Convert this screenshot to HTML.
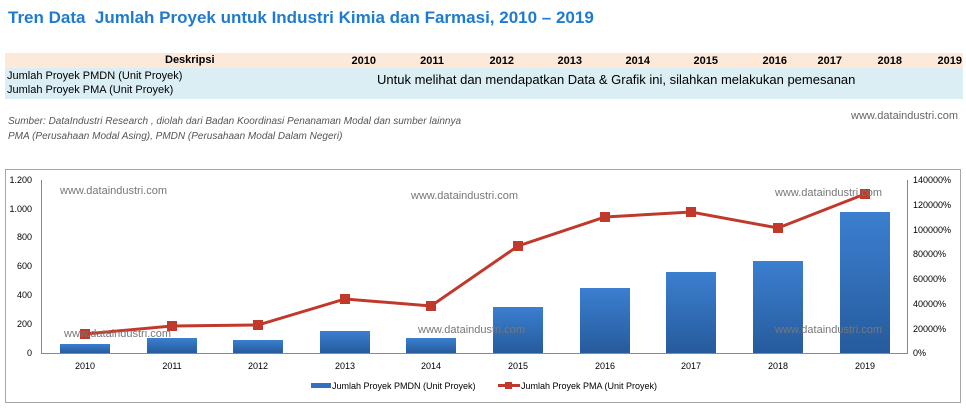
<!DOCTYPE html>
<html><head><meta charset="utf-8"><style>
body{margin:0;width:966px;height:408px;background:#fff;position:relative;overflow:hidden;font-family:"Liberation Sans",Calibri,sans-serif}
.a{position:absolute;white-space:nowrap}
</style></head><body>
<div class="a" style="left:8px;top:8px;font-size:17px;font-weight:bold;color:#1f7bd0;">Tren Data&nbsp; Jumlah Proyek untuk Industri Kimia dan Farmasi, 2010 – 2019</div>
<div class="a" style="left:5px;top:53px;width:958px;height:15px;background:#fde9d9"></div>
<div class="a" style="left:5px;top:68px;width:958px;height:31px;background:#daeef3"></div>
<div class="a" style="left:165px;top:54px;font-size:11px;font-weight:bold">Deskripsi</div>
<div style="font-size:11px;font-weight:bold">
<div class="a" style="left:346px;top:55px;width:30px;text-align:right">2010</div>
<div class="a" style="left:414px;top:55px;width:30px;text-align:right">2011</div>
<div class="a" style="left:484px;top:55px;width:30px;text-align:right">2012</div>
<div class="a" style="left:552px;top:55px;width:30px;text-align:right">2013</div>
<div class="a" style="left:620px;top:55px;width:30px;text-align:right">2014</div>
<div class="a" style="left:688px;top:55px;width:30px;text-align:right">2015</div>
<div class="a" style="left:757px;top:55px;width:30px;text-align:right">2016</div>
<div class="a" style="left:812px;top:55px;width:30px;text-align:right">2017</div>
<div class="a" style="left:872px;top:55px;width:30px;text-align:right">2018</div>
<div class="a" style="left:932px;top:55px;width:30px;text-align:right">2019</div>
</div>
<div class="a" style="left:7px;top:70px;font-size:11px">Jumlah Proyek PMDN (Unit Proyek)</div>
<div class="a" style="left:7px;top:84px;font-size:11px">Jumlah Proyek PMA (Unit Proyek)</div>
<div class="a" style="left:377px;top:72px;font-size:13px">Untuk melihat dan mendapatkan Data &amp; Grafik ini, silahkan melakukan pemesanan</div>
<div class="a" style="left:851px;top:110px;font-size:11px;color:#666">www.dataindustri.com</div>
<div class="a" style="left:8px;top:116px;font-size:10px;font-style:italic;color:#555">Sumber: DataIndustri Research , diolah dari Badan Koordinasi Penanaman Modal dan sumber lainnya</div>
<div class="a" style="left:8px;top:131px;font-size:10px;font-style:italic;color:#555">PMA (Perusahaan Modal Asing), PMDN (Perusahaan Modal Dalam Negeri)</div>
<svg class="a" style="left:0;top:0" width="966" height="408" font-family="Liberation Sans, sans-serif">
<defs><linearGradient id="g" x1="0" y1="0" x2="0" y2="1"><stop offset="0" stop-color="#3b7fd0"/><stop offset="1" stop-color="#265b9c"/></linearGradient></defs>
<rect x="5.5" y="169.5" width="955" height="233" fill="#fff" stroke="#a6a6a6"/>
<line x1="41.5" y1="180" x2="41.5" y2="353" stroke="#888"/>
<line x1="907.5" y1="180" x2="907.5" y2="353" stroke="#888"/>
<line x1="41" y1="353.5" x2="908" y2="353.5" stroke="#888"/>
<g font-size="9" text-anchor="end" fill="#000">
<text x="32" y="183">1.200</text><text x="32" y="212">1.000</text><text x="32" y="240">800</text><text x="32" y="269">600</text><text x="32" y="298">400</text><text x="32" y="327">200</text><text x="32" y="356">0</text>
</g>
<g font-size="9" fill="#000">
<text x="913" y="183">140000%</text><text x="913" y="208">120000%</text><text x="913" y="233">100000%</text><text x="913" y="257">80000%</text><text x="913" y="282">60000%</text><text x="913" y="307">40000%</text><text x="913" y="332">20000%</text><text x="913" y="356">0%</text>
</g>
<g fill="url(#g)">
<rect x="60" y="344" width="50" height="9"/>
<rect x="147" y="338" width="50" height="15"/>
<rect x="233" y="340" width="50" height="13"/>
<rect x="320" y="331" width="50" height="22"/>
<rect x="406" y="338" width="50" height="15"/>
<rect x="493" y="307" width="50" height="46"/>
<rect x="580" y="288" width="50" height="65"/>
<rect x="666" y="272" width="50" height="81"/>
<rect x="753" y="261" width="50" height="92"/>
<rect x="840" y="212" width="50" height="141"/>
</g>
<polyline fill="none" stroke="#c0392b" stroke-width="3" points="85,334 172,326 258,325 345,299 431,306 518,246 605,217 691,212 778,228 865,194"/>
<g fill="#c0392b">
<rect x="80" y="329" width="10" height="10"/><rect x="167" y="321" width="10" height="10"/><rect x="253" y="320" width="10" height="10"/><rect x="340" y="294" width="10" height="10"/><rect x="426" y="301" width="10" height="10"/><rect x="513" y="241" width="10" height="10"/><rect x="600" y="212" width="10" height="10"/><rect x="686" y="207" width="10" height="10"/><rect x="773" y="223" width="10" height="10"/><rect x="860" y="189" width="10" height="10"/>
</g>
<g font-size="9" text-anchor="middle">
<text x="85" y="369">2010</text><text x="172" y="369">2011</text><text x="258" y="369">2012</text><text x="345" y="369">2013</text><text x="431" y="369">2014</text><text x="518" y="369">2015</text><text x="605" y="369">2016</text><text x="691" y="369">2017</text><text x="778" y="369">2018</text><text x="865" y="369">2019</text>
</g>
<g font-size="11" fill="#777">
<text x="60" y="194">www.dataindustri.com</text>
<text x="411" y="199">www.dataindustri.com</text>
<text x="775" y="196">www.dataindustri.com</text>
<text x="64" y="337">www.dataindustri.com</text>
<text x="418" y="333">www.dataindustri.com</text>
<text x="775" y="333">www.dataindustri.com</text>
</g>
<rect x="311" y="383" width="20" height="5" fill="#3270c0"/>
<text x="332" y="389" font-size="9">Jumlah Proyek PMDN (Unit Proyek)</text>
<line x1="498" y1="385.5" x2="520" y2="385.5" stroke="#c0392b" stroke-width="3"/>
<rect x="505" y="382" width="7" height="7" fill="#c0392b"/>
<text x="521" y="389" font-size="9">Jumlah Proyek PMA (Unit Proyek)</text>
</svg>
</body></html>
